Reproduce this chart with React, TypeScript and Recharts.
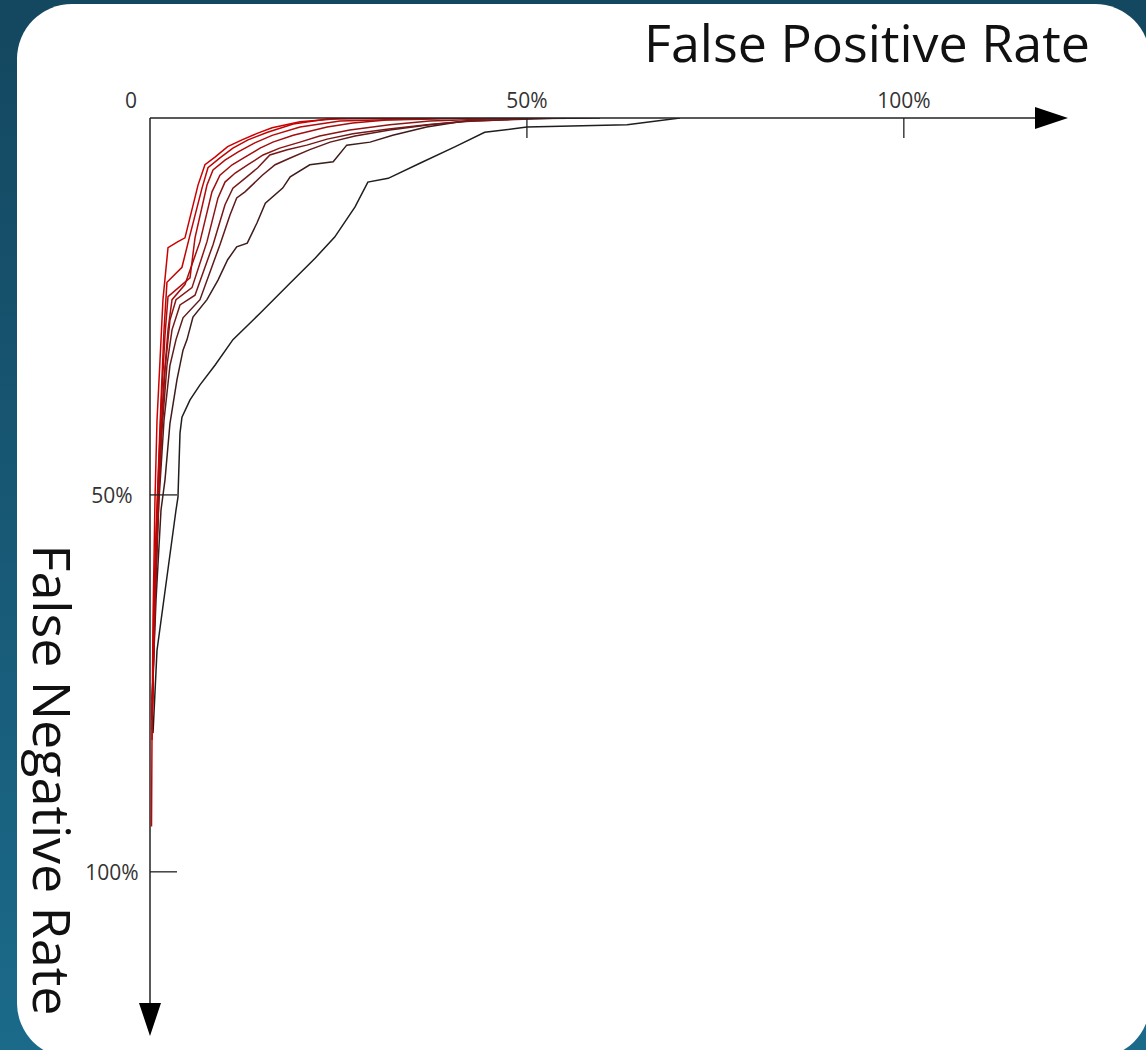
import { LineChart, Line, XAxis, YAxis } from 'recharts'

// [false positive rate %, false negative rate %], inner (red) to outer (black)
const curve1: [number, number][] = [
  [0.2, 94.0], [0.27, 81.2], [0.4, 66.6], [0.66, 50.7], [0.93, 40.1], [1.33, 32.1], [1.72, 24.1],
  [2.39, 17.2], [3.71, 16.4], [4.64, 15.9], [6.37, 8.9], [7.29, 6.2], [8.62, 5.2], [10.3, 3.8],
  [12.2, 2.9], [14.3, 2.0], [16.2, 1.3], [19.9, 0.5], [25.2, 0.07], [33.2, 0],
]
const curve2: [number, number][] = [
  [0.27, 82.5], [0.4, 71.9], [0.66, 58.6], [1.06, 48.0], [1.46, 37.4], [1.86, 28.1], [2.25, 21.8],
  [4.24, 19.8], [5.31, 15.5], [6.9, 9.3], [7.69, 6.6], [9.28, 5.3], [11.0, 4.0], [13.0, 2.9],
  [15.6, 1.9], [19.0, 0.8], [23.5, 0.13], [35.8, 0],
]
const curve3: [number, number][] = [
  [0.27, 81.2], [0.53, 69.2], [0.8, 56.0], [1.19, 45.4], [1.59, 36.1], [1.99, 28.8], [2.39, 23.7],
  [5.31, 21.2], [5.97, 15.9], [7.56, 8.9], [8.36, 6.9], [9.95, 5.6], [11.7, 4.5], [13.9, 3.3],
  [16.2, 2.3], [19.9, 1.2], [25.2, 0.4], [39.8, 0],
]
const curve4: [number, number][] = [
  [0.27, 79.8], [0.53, 67.9], [0.93, 54.6], [1.33, 44.0], [1.86, 34.7], [2.39, 28.1], [2.92, 24.1],
  [4.64, 22.1], [6.63, 16.4], [8.22, 9.8], [9.28, 7.6], [10.9, 6.2], [12.6, 5.2], [14.6, 4.0],
  [16.3, 3.2], [19.0, 2.3], [23.5, 1.2], [26.9, 0.66], [31.4, 0.27], [43.8, 0],
]
const curve5: [number, number][] = [
  [0.27, 79.8], [0.53, 66.6], [1.06, 53.3], [1.46, 42.7], [1.99, 33.4], [2.65, 26.8], [3.45, 24.1],
  [5.57, 22.5], [7.56, 16.4], [9.02, 10.6], [9.95, 8.5], [11.3, 7.3], [13.0, 6.2], [15.0, 4.9],
  [17.2, 4.0], [19.9, 3.2], [22.5, 2.4], [26.5, 1.6], [31.8, 0.9], [37.1, 0.4], [49.1, 0],
]
const curve6: [number, number][] = [
  [0.27, 79.8], [0.66, 65.3], [1.06, 52.0], [1.59, 41.4], [2.25, 32.8], [2.92, 28.1], [3.98, 24.8],
  [5.97, 23.5], [8.36, 16.8], [9.95, 11.5], [11.0, 9.3], [12.6, 8.0], [14.3, 6.6], [15.9, 4.9],
  [18.2, 4.2], [20.8, 3.6], [23.5, 2.8], [26.9, 2.1], [31.4, 1.5], [36.7, 0.9], [41.1, 0.5], [51.7, 0],
]
const curve7: [number, number][] = [
  [0.27, 79.2], [0.66, 63.9], [1.19, 50.7], [1.86, 40.1], [2.65, 32.8], [3.45, 29.4], [4.38, 26.5],
  [6.63, 24.1], [9.28, 16.8], [10.6, 12.9], [11.5, 10.6], [12.6, 9.8], [14.9, 7.6], [16.6, 6.2],
  [18.6, 5.3], [21.2, 4.2], [23.9, 3.2], [27.2, 2.4], [31.8, 1.6], [37.1, 0.9], [42.4, 0.4], [54.4, 0],
]
const curve8: [number, number][] = [
  [0.27, 77.2], [0.8, 63.9], [1.46, 52.0], [1.99, 48.0], [2.65, 40.5], [3.58, 34.7], [4.38, 30.8],
  [4.91, 29.4], [5.7, 26.4], [7.56, 24.1], [9.02, 21.5], [10.3, 18.8], [11.5, 17.1], [12.9, 16.6],
  [14.2, 13.9], [15.3, 11.3], [17.6, 9.3], [18.6, 7.8], [21.2, 6.2], [24.3, 5.8], [26.1, 3.6],
  [29.2, 3.2], [32.2, 2.3], [36.7, 1.2], [41.1, 0.5], [43.8, 0.13], [59.7, 0],
]
const curve9: [number, number][] = [
  [0.4, 81.6], [0.93, 70.6], [3.45, 52.0], [3.71, 50.3], [3.98, 41.8], [4.24, 39.7], [5.31, 37.4],
  [6.63, 35.4], [8.62, 32.8], [11.0, 29.4], [14.6, 25.9], [18.6, 21.9], [21.9, 18.6], [24.5, 15.8],
  [27.2, 11.8], [28.9, 8.5], [31.6, 8.0], [35.8, 6.0], [40.5, 3.8], [44.4, 1.9], [50.0, 1.2],
  [63.3, 0.9], [70.3, 0],
]

const curves = [curve9, curve8, curve7, curve6, curve5, curve4, curve3, curve2, curve1]
const colors = ['#1e1e1e', '#3d1c1c', '#5f1a1a', '#761818', '#8c1414', '#a00f0f', '#b30a0a', '#c00404', '#cc0000']

const xTicks = [0, 50, 100]
const yTicks = [50, 100]
const AXIS_MAX = 117.4

const FONT = '"Open Sans", sans-serif'

const XTick = ({ x, y, payload }: any) => {
  const v = payload.value
  if (v === 0) {
    return <text x={x - 19} y={y - 10} textAnchor="middle" fontSize={21} fontFamily={FONT} fill="#333">0</text>
  }
  return (
    <g>
      <line x1={x} y1={y} x2={x} y2={y + 20} stroke="#222" strokeWidth={1.3} />
      <text x={x} y={y - 10} textAnchor="middle" fontSize={21} fontFamily={FONT} fill="#333">{v}%</text>
    </g>
  )
}

const YTick = ({ x, y, payload }: any) => (
  <g>
    <line x1={x} y1={y} x2={x + 27} y2={y} stroke="#222" strokeWidth={1.3} />
    <text x={x - 38} y={y + 8} textAnchor="middle" fontSize={21} fontFamily={FONT} fill="#333">{payload.value}%</text>
  </g>
)

export default function App() {
  return (
    <div style={{
      position: 'absolute', left: 0, top: 0, width: 1146, height: 1050, overflow: 'hidden',
      background: 'linear-gradient(180deg, #144760 0%, #1b6a8a 100%)',
    }}>
      <div style={{
        position: 'absolute', left: 17, top: 4, width: 1133, height: 1054,
        background: '#fff', borderRadius: 55,
      }} />
      <div style={{ position: 'absolute', left: 0, top: 0 }}>
        <LineChart width={1146} height={1050} margin={{ top: 78, right: 111, bottom: 47, left: 90 }}>
          <defs>
            <marker id="arrowHead" markerWidth={34} markerHeight={24} refX={0} refY={12}
              orient="auto" markerUnits="userSpaceOnUse">
              <path d="M0,1 L33,12 L0,23 Z" fill="#000" />
            </marker>
          </defs>
          <XAxis
            type="number" dataKey="fpr" orientation="top" height={40}
            domain={[0, AXIS_MAX]} allowDataOverflow ticks={xTicks}
            tickSize={0} tickMargin={0} tickLine={false} tick={<XTick />}
            axisLine={{ stroke: '#222', strokeWidth: 1.5, markerEnd: 'url(#arrowHead)' }}
            label={{
              content: ({ viewBox }: any) => (
                <text x={viewBox.x + viewBox.width + 55} y={viewBox.y - 16} textAnchor="end"
                  fontSize={52} fontFamily={FONT} fill="#111">False Positive Rate</text>
              ),
            }}
          />
          <YAxis
            type="number" dataKey="fnr" width={60} reversed
            domain={[0, AXIS_MAX]} allowDataOverflow ticks={yTicks}
            tickSize={0} tickMargin={0} tickLine={false} tick={<YTick />}
            axisLine={{ stroke: '#222', strokeWidth: 1.5, markerEnd: 'url(#arrowHead)' }}
            label={{
              content: ({ viewBox }: any) => {
                const cx = viewBox.x - 57
                const cy = viewBox.y + 662
                return (
                  <text x={cx} y={cy} textAnchor="middle" transform={`rotate(90, ${cx}, ${cy})`}
                    fontSize={52} fontFamily={FONT} fill="#111">False Negative Rate</text>
                )
              },
            }}
          />
          {curves.map((c, i) => (
            <Line
              key={i}
              data={c.map(([fpr, fnr]) => ({ fpr, fnr }))}
              dataKey="fnr"
              type="linear"
              stroke={colors[i]}
              strokeWidth={1.5}
              dot={false}
              activeDot={false}
              isAnimationActive={false}
            />
          ))}
        </LineChart>
      </div>
    </div>
  )
}
